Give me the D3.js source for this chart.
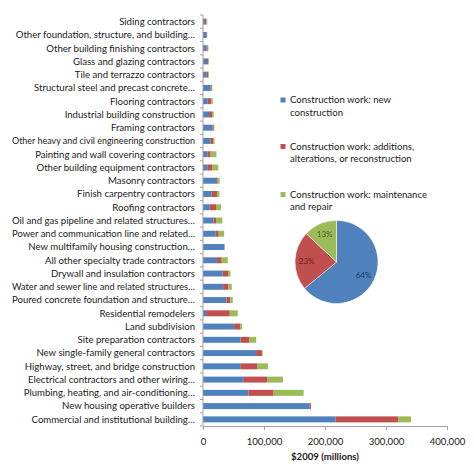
<!DOCTYPE html>
<html>
<head>
<meta charset="utf-8">
<script src="https://cdn.jsdelivr.net/npm/d3@7"></script>
<style>
  body { margin: 0; background: #fff; }
  svg { font-family: Lato, "Open Sans", sans-serif; }
</style>
</head>
<body>
<svg id="chart" width="474" height="467"></svg>
<script>
/* data, top row first */
var categories = [
  "Siding contractors",
  "Other foundation, structure, and building\u2026",
  "Other building finishing contractors",
  "Glass and glazing contractors",
  "Tile and terrazzo contractors",
  "Structural steel and precast concrete\u2026",
  "Flooring contractors",
  "Industrial building construction",
  "Framing contractors",
  "Other heavy and civil engineering construction",
  "Painting and wall covering contractors",
  "Other building equipment contractors",
  "Masonry contractors",
  "Finish carpentry contractors",
  "Roofing contractors",
  "Oil and gas pipeline and related structures\u2026",
  "Power and communication  line and related\u2026",
  "New multifamily housing construction\u2026",
  "All other specialty trade contractors",
  "Drywall and insulation contractors",
  "Water and sewer line and related structures\u2026",
  "Poured concrete foundation and structure\u2026",
  "Residential remodelers",
  "Land subdivision",
  "Site preparation contractors",
  "New single-family general contractors",
  "Highway, street, and bridge construction",
  "Electrical contractors and other wiring\u2026",
  "Plumbing, heating, and air-conditioning\u2026",
  "New housing operative builders",
  "Commercial and institutional building\u2026"
];
var newWork = [3300, 5500, 5500, 6600, 6000, 12600, 7700, 9900, 15400, 12000,
  7100, 7000, 21400, 14300, 11000, 17000, 20900, 35000, 23000, 32400,
  33000, 38500, 5000, 51000, 61500, 87000, 61000, 67000, 74600, 174500, 217500];
var additions = [2200, 1000, 2200, 2200, 2800, 1700, 6000, 4900, 2200, 4500,
  5500, 7800, 2600, 8700, 10400, 4400, 4900, 500, 7700, 8600,
  8700, 6200, 38900, 10500, 14200, 9600, 28400, 38000, 41200, 2500, 103000];
var repair = [1500, 500, 1100, 1100, 1100, 1100, 2300, 2800, 1100, 2500,
  9400, 10200, 3400, 4000, 8200, 10400, 8800, 0, 9900, 4000,
  5500, 4100, 13100, 2700, 11500, 1100, 17000, 26000, 49200, 0, 20500];
var xTicks = [0, 100000, 200000, 300000, 400000];
var seriesNames = [
  ["Construction work: new", "construction"],
  ["Construction work: additions,", "alterations, or reconstruction"],
  ["Construction work: maintenance", "and repair"]
];
var shares = [64, 23, 13];

var colors = ["#4F81BD", "#C0504D", "#9BBB59"];
var labelColors = ["#1F3A66", "#6B1E1C", "#4A5E22"];

var svg = d3.select("#chart");
var margin = { top: 15, left: 203, right: 27, bottom: 41 };
var W = 474, H = 467;

var rows = categories.map(function(c, i) {
  return { cat: c, v: [newWork[i], additions[i], repair[i]] };
});
var stack = d3.stack().keys([0, 1, 2]).value(function(d, k) { return d.v[k]; });
var layers = stack(rows);

var x = d3.scaleLinear().domain([0, 400000]).range([margin.left, W - margin.right]);
var y = d3.scaleBand().domain(categories).range([margin.top, H - margin.bottom]).paddingInner(0.55).paddingOuter(0.275);

/* bars */
svg.append("g").selectAll("g")
  .data(layers)
  .enter().append("g")
    .attr("fill", function(d, i) { return colors[i]; })
  .selectAll("rect")
  .data(function(d) { return d; })
  .enter().append("rect")
    .attr("x", function(d) { return x(d[0]); })
    .attr("width", function(d) { return x(d[1]) - x(d[0]); })
    .attr("y", function(d) { return y(d.data.cat); })
    .attr("height", y.bandwidth());

/* y axis: band boundary ticks */
var yAxisG = svg.append("g");
yAxisG.append("line")
  .attr("x1", x(0)).attr("x2", x(0))
  .attr("y1", margin.top).attr("y2", H - margin.bottom)
  .attr("stroke", "#A0A0A0");
var step = y.step();
yAxisG.selectAll(".yt")
  .data(d3.range(categories.length + 1))
  .enter().append("line")
    .attr("x1", x(0) - 3).attr("x2", x(0))
    .attr("y1", function(i) { return margin.top + i * step; })
    .attr("y2", function(i) { return margin.top + i * step; })
    .attr("stroke", "#A0A0A0");
yAxisG.selectAll("text")
  .data(categories)
  .enter().append("text")
    .attr("x", x(0) - 8)
    .attr("y", function(d) { return y(d) + y.bandwidth() / 2; })
    .attr("dy", "0.35em")
    .attr("text-anchor", "end")
    .attr("font-size", 9.6)
    .attr("fill", "#1a1a1a")
    .text(function(d) { return d; })
    .each(function() {
      // squeeze the longest labels so they stay inside the page
      if (this.getComputedTextLength() > 183) {
        d3.select(this).attr("textLength", 183).attr("lengthAdjust", "spacingAndGlyphs");
      }
    });

/* x axis */
var xAxis = d3.axisBottom(x).tickValues(xTicks).tickSize(4).tickFormat(d3.format(","));
var xg = svg.append("g")
  .attr("transform", "translate(0," + (H - margin.bottom) + ")")
  .call(xAxis);
xg.select(".domain").attr("stroke", "#A0A0A0");
xg.selectAll(".tick line").attr("stroke", "#A0A0A0");
xg.selectAll(".tick text")
  .attr("y", 12)
  .attr("font-family", "Lato, sans-serif")
  .attr("font-size", 9.6)
  .attr("fill", "#1a1a1a");

svg.append("text")
  .attr("x", (x(0) + x(400000)) / 2)
  .attr("y", 460)
  .attr("text-anchor", "middle")
  .attr("font-size", 9.6)
  .attr("font-weight", "bold")
  .attr("fill", "#1a1a1a")
  .text("$2009 (millions)");

/* legend */
var legendY = [100, 146.5, 194.5];
var lg = svg.append("g").selectAll("g")
  .data(seriesNames)
  .enter().append("g")
    .attr("transform", function(d, i) { return "translate(283," + legendY[i] + ")"; });
lg.append("rect")
  .attr("x", -2.5).attr("y", -2.5)
  .attr("width", 5).attr("height", 5)
  .attr("fill", function(d, i) { return colors[i]; });
lg.selectAll("text")
  .data(function(d) { return d; })
  .enter().append("text")
    .attr("x", 7)
    .attr("y", function(d, j) { return j * 12.3; })
    .attr("dy", "0.35em")
    .attr("font-size", 9.6)
    .attr("fill", "#1a1a1a")
    .text(function(d) { return d; });

/* pie */
var pieG = svg.append("g").attr("transform", "translate(336.5,262)");
var r = 41.5;
var arcs = d3.pie().sort(null)(shares);
var arc = d3.arc().innerRadius(0).outerRadius(r);
pieG.selectAll("path")
  .data(arcs)
  .enter().append("path")
    .attr("d", arc)
    .attr("fill", function(d, i) { return colors[i]; })
    .attr("stroke", "#fff")
    .attr("stroke-width", 0.5);
var labelArc = d3.arc().innerRadius(r * 0.72).outerRadius(r * 0.72);
pieG.selectAll("text")
  .data(arcs)
  .enter().append("text")
    .attr("transform", function(d) { return "translate(" + labelArc.centroid(d) + ")"; })
    .attr("text-anchor", "middle")
    .attr("dy", "0.35em")
    .attr("font-size", 8)
    .attr("fill", function(d, i) { return labelColors[i]; })
    .text(function(d) { return d.data + "%"; });
</script>
</body>
</html>
